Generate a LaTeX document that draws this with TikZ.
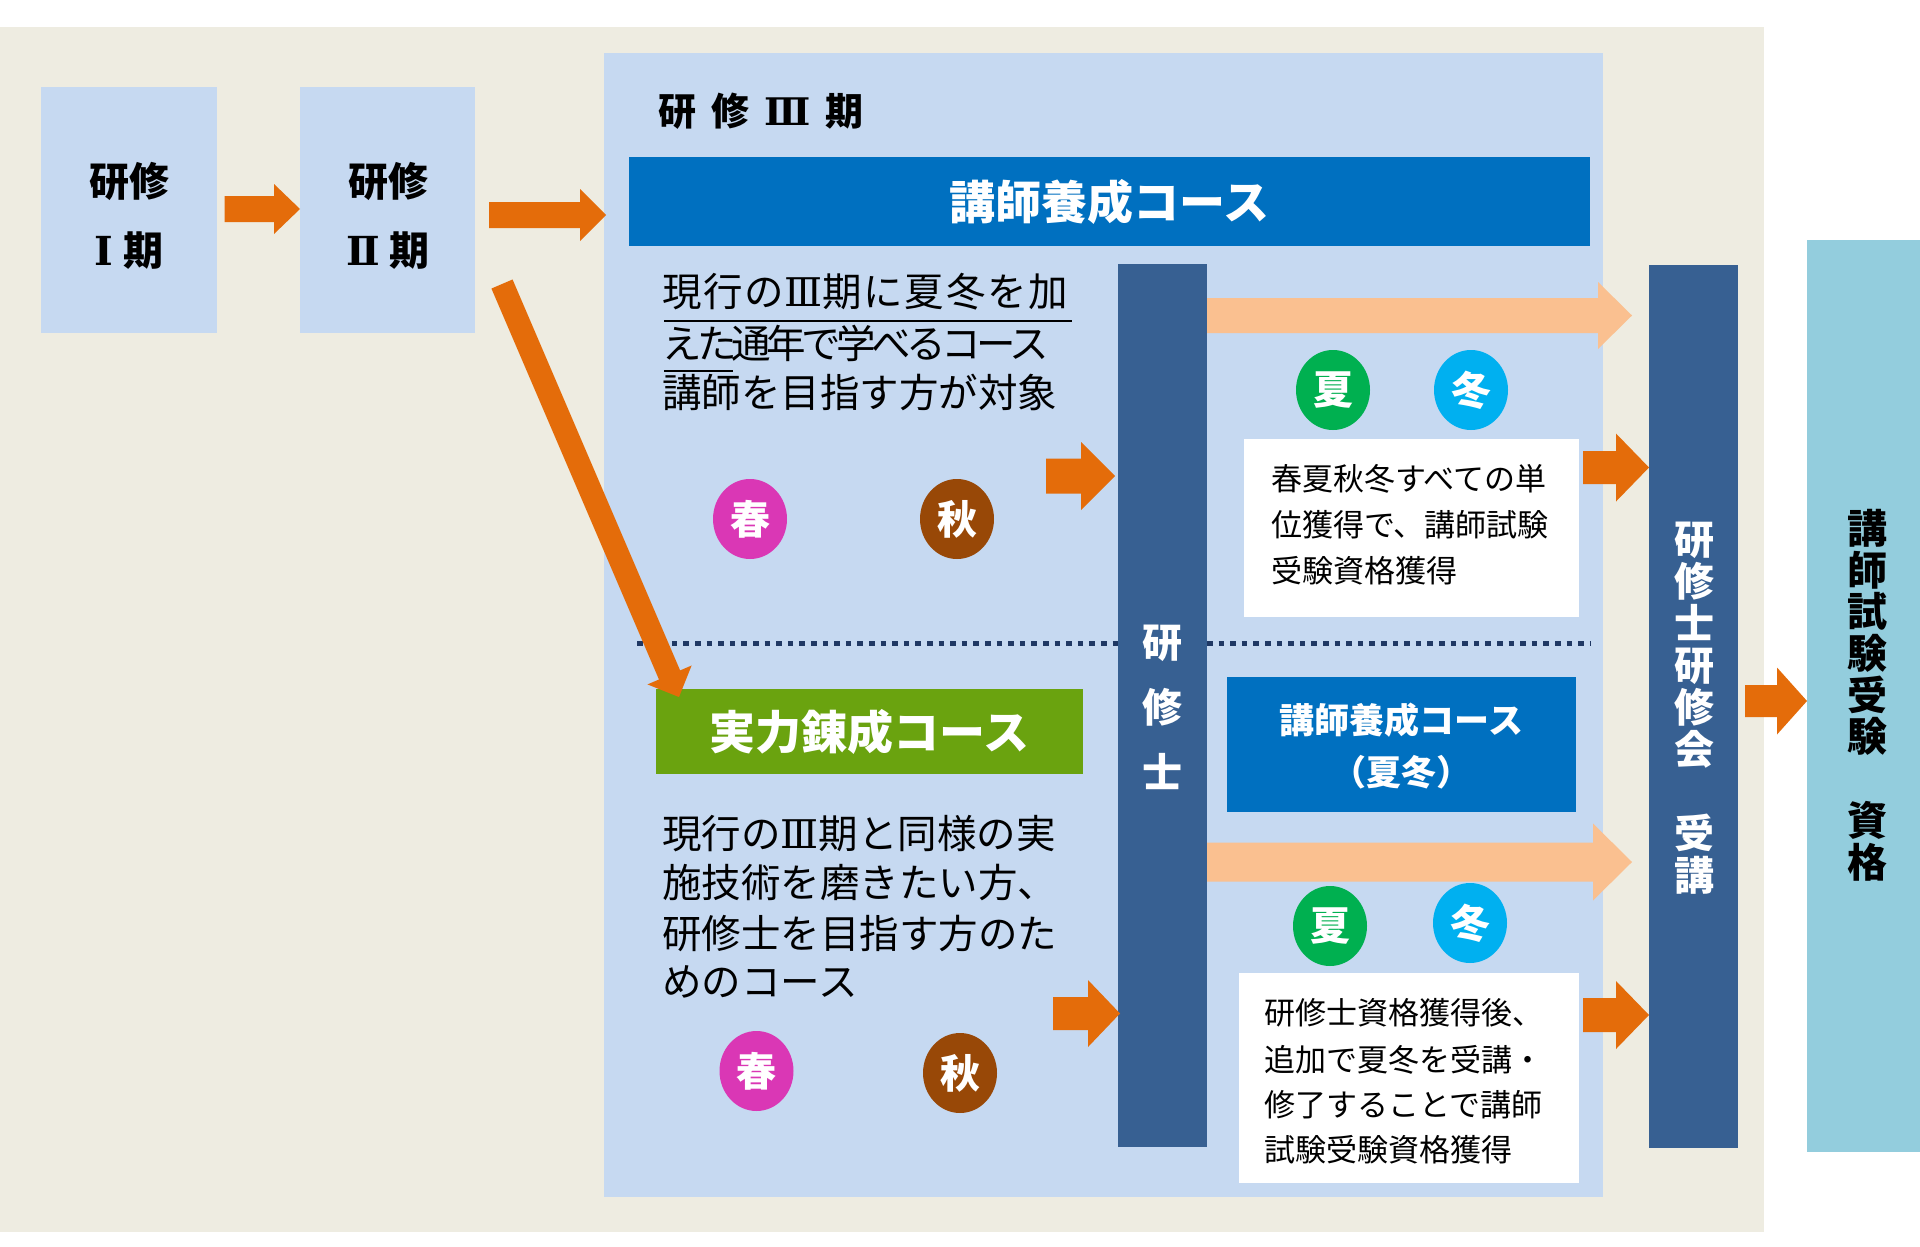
\documentclass[tikz,border=0pt]{standalone}
\usepackage{fontspec}
\newfontfamily\jp{Noto Sans CJK JP}
\newfontfamily\rn{DejaVu Serif}
\usetikzlibrary{calc,shapes.geometric}
\definecolor{bgbeige}{HTML}{EEECE1}
\definecolor{lblue}{HTML}{C6D9F1}
\definecolor{hblue}{HTML}{0070C0}
\definecolor{dblue}{HTML}{376092}
\definecolor{aorange}{HTML}{E46C0A}
\definecolor{apeach}{HTML}{FAC090}
\definecolor{cgreen}{HTML}{00B050}
\definecolor{ccyan}{HTML}{00B0F0}
\definecolor{cmag}{HTML}{DA37B5}
\definecolor{cbrown}{HTML}{984807}
\definecolor{bgreen}{HTML}{6AA30F}
\definecolor{rteal}{HTML}{93CDDD}
\definecolor{dotnavy}{HTML}{1F3864}
% block arrow: #1 colour, #2 from, #3 to, #4 shaft half width, #5 head half width, #6 head length
\newcommand{\blockarr}[6]{%
  \coordinate (ba-h) at ($(#3)!#6!(#2)$);
  \fill[#1] ($(#2)!#4!90:(#3)$) -- ($(ba-h)!#4!90:(#3)$) -- ($(ba-h)!#5!90:(#3)$)
    -- (#3) -- ($(ba-h)!#5!-90:(#3)$) -- ($(ba-h)!#4!-90:(#3)$) -- ($(#2)!#4!-90:(#3)$) -- cycle;
}
\begin{document}
\begin{tikzpicture}[x=1pt,y=-1pt,
  rectbox/.style={inner sep=0,outer sep=0,anchor=north west},
  bodyline/.style={inner sep=0,outer sep=0,anchor=west,font=\jp\fontsize{39.5}{48}\selectfont},
  wline/.style={inner sep=0,outer sep=0,anchor=west,font=\jp\fontsize{31}{38}\selectfont},
  season/.style={ellipse,inner sep=0,outer sep=0,minimum width=74pt,minimum height=80pt,
    text=white,font=\jp\bfseries\fontsize{40}{40}\selectfont},
  vtext/.style={align=center,inner sep=0,outer sep=0},
]
\useasboundingbox (0,0) rectangle (1920,1247);
\fill[white] (0,0) rectangle (1920,1247);

% backgrounds
\node[rectbox,fill=bgbeige,minimum width=1764pt,minimum height=1205pt] (bg) at (0,27) {};
\node[rectbox,fill=lblue,minimum width=999pt,minimum height=1144pt] (panel) at (604,53) {};

% period boxes
\node[rectbox,fill=lblue,minimum width=176pt,minimum height=246pt] (b1) at (41,87) {};
\node[rectbox,fill=lblue,minimum width=175pt,minimum height=246pt] (b2) at (300,87) {};
\node[vtext,font=\jp\bfseries\fontsize{40}{69}\selectfont] (b1t) at (129,215.5) {研修\\{\rn\bfseries Ⅰ}\hspace{10pt}期};
\node[vtext,font=\jp\bfseries\fontsize{40}{69}\selectfont] (b2t) at (388,215.5) {研修\\{\rn\bfseries Ⅱ}\hspace{10pt}期};

% title
\node[inner sep=0,anchor=west,font=\jp\bfseries\fontsize{38}{38}\selectfont] (title) at (658,111)
  {研\hspace{15pt}修\hspace{15pt}{\rn\bfseries Ⅲ}\hspace{15pt}期};

% header bar
\node[rectbox,fill=hblue,minimum width=961pt,minimum height=89pt] (hdr) at (629,157) {};
\node[text=white,inner sep=0,font=\jp\bfseries\fontsize{46}{46}\selectfont] (hdrt) at (hdr.center) {講師養成コース};

% upper left text
\node[bodyline] (u1) at (662,292) {\addfontfeature{LetterSpace=4.6}現行の{\rn Ⅲ}期に夏冬を加};
\node[bodyline] (u2) at (662,343) {\addfontfeature{LetterSpace=-11.5}えた通年で学べるコース};
\node[bodyline] (u3) at (662,392) {講師を目指す方が対象};
\coordinate (ul1a) at (664,321); \coordinate (ul1b) at (1072,321);
\coordinate (ul2a) at (664,371); \coordinate (ul2b) at (733,371);
\draw[line width=1.6pt,black] (ul1a) -- (ul1b);
\draw[line width=1.6pt,black] (ul2a) -- (ul2b);

% seasons upper
\node[season,fill=cmag] (spr1) at (750,519) {春};
\node[season,fill=cbrown] (aut1) at (957,519) {秋};
\node[season,fill=cgreen] (sum1) at (1333,390) {夏};
\node[season,fill=ccyan] (win1) at (1471,390) {冬};

% kenshushi bar
\node[rectbox,fill=dblue,minimum width=89pt,minimum height=883pt] (kbar) at (1118,264) {};
\node[vtext,text=white,font=\jp\bfseries\fontsize{40}{65}\selectfont] (kbart) at (1162.5,707) {研\\修\\士};

% dotted separator
\coordinate (dl1) at (637,643); \coordinate (dl2) at (1118,643);
\coordinate (dl3) at (1207,643); \coordinate (dl4) at (1590,643);
\draw[dotnavy,line width=5pt,dash pattern=on 5.5pt off 6.1pt] (dl1) -- (dl2);
\draw[dotnavy,line width=5pt,dash pattern=on 5.5pt off 6.1pt] (dl3) -- (dl4);

% white box top
\node[rectbox,fill=white,minimum width=335pt,minimum height=178pt] (wb1) at (1244,439) {};
\node[wline] (w1a) at (1271,479) {春夏秋冬すべての単};
\node[wline] (w1b) at (1271,525) {位獲得で、講師試験};
\node[wline] (w1c) at (1271,571) {受験資格獲得};

% green course bar
\node[rectbox,fill=bgreen,minimum width=427pt,minimum height=85pt] (gbar) at (656,689) {};
\node[text=white,inner sep=0,font=\jp\bfseries\fontsize{46}{46}\selectfont] (gbart) at (869.5,731.5) {実力錬成コース};

% blue course box (summer/winter)
\node[rectbox,fill=hblue,minimum width=349pt,minimum height=135pt] (bbox) at (1227,677) {};
\node[vtext,text=white,font=\jp\bfseries\fontsize{35}{52}\selectfont] (bboxt) at (1401.5,746) {講師養成コース\\（夏冬）};

% lower left text
\node[bodyline] (l1) at (662,834) {現行の{\rn Ⅲ}期と同様の実};
\node[bodyline] (l2) at (662,883) {施技術を磨きたい方、};
\node[bodyline] (l3) at (662,933) {研修士を目指す方のた};
\node[bodyline] (l4) at (662,982) {めのコース};

% seasons lower
\node[season,fill=cmag] (spr2) at (756.5,1071) {春};
\node[season,fill=cbrown] (aut2) at (960,1073) {秋};
\node[season,fill=cgreen] (sum2) at (1330,926) {夏};
\node[season,fill=ccyan] (win2) at (1470,923) {冬};

% white box bottom
\node[rectbox,fill=white,minimum width=340pt,minimum height=210pt] (wb2) at (1239,973) {};
\node[wline] (w2a) at (1264,1013) {研修士資格獲得後、};
\node[wline] (w2b) at (1264,1060) {追加で夏冬を受講・};
\node[wline] (w2c) at (1264,1105) {修了することで講師};
\node[wline] (w2d) at (1264,1150) {試験受験資格獲得};

% kenshushi kenshukai bar
\node[rectbox,fill=dblue,minimum width=89pt,minimum height=883pt] (kkbar) at (1649,265) {};
\node[vtext,text=white,font=\jp\bfseries\fontsize{40}{42}\selectfont] (kkbart) at (1694,708)
  {研\\修\\士\\研\\修\\会\\　\\受\\講};

% right qualification box
\node[rectbox,fill=rteal,minimum width=113pt,minimum height=912pt] (qbox) at (1807,240) {};
\node[vtext,text=black,font=\jp\bfseries\fontsize{40}{41.7}\selectfont] (qboxt) at (1867,695)
  {講\\師\\試\\験\\受\\験\\　\\資\\格};

% arrows
\coordinate (a1s) at (224.5,209);  \coordinate (a1e) at (b2.west |- a1s);
\blockarr{aorange}{a1s}{a1e}{13pt}{25pt}{26pt}
\coordinate (a2s) at (489,215);    \coordinate (a2e) at (606,215);
\blockarr{aorange}{a2s}{a2e}{13pt}{26pt}{26pt}
\coordinate (a3s) at (502,284);    \coordinate (a3e) at (679,697);
\blockarr{aorange}{a3s}{a3e}{11.5pt}{24pt}{24pt}
\coordinate (a4s) at (1046,476);   \coordinate (a4e) at (1115,476);
\blockarr{aorange}{a4s}{a4e}{17.5pt}{34pt}{34pt}
\coordinate (a5s) at (1053,1013.5); \coordinate (a5e) at (1120,1013.5);
\blockarr{aorange}{a5s}{a5e}{16.5pt}{33.5pt}{32pt}
\coordinate (p1s) at (kbar.east |- 0,315.5); \coordinate (p1e) at (1632,315.5);
\blockarr{apeach}{p1s}{p1e}{17.5pt}{33.5pt}{34pt}
\coordinate (p2s) at (kbar.east |- 0,862); \coordinate (p2e) at (1632,862);
\blockarr{apeach}{p2s}{p2e}{19.5pt}{38.5pt}{39pt}
\coordinate (a6s) at (1583,467.5); \coordinate (a6e) at (kkbar.west |- a6s);
\blockarr{aorange}{a6s}{a6e}{16.5pt}{34pt}{33pt}
\coordinate (a7s) at (1583,1015);  \coordinate (a7e) at (kkbar.west |- a7s);
\blockarr{aorange}{a7s}{a7e}{17pt}{34pt}{33pt}
\coordinate (a8s) at (1745,701);   \coordinate (a8e) at (qbox.west |- a8s);
\blockarr{aorange}{a8s}{a8e}{16pt}{33.5pt}{30pt}
\end{tikzpicture}
\end{document}
